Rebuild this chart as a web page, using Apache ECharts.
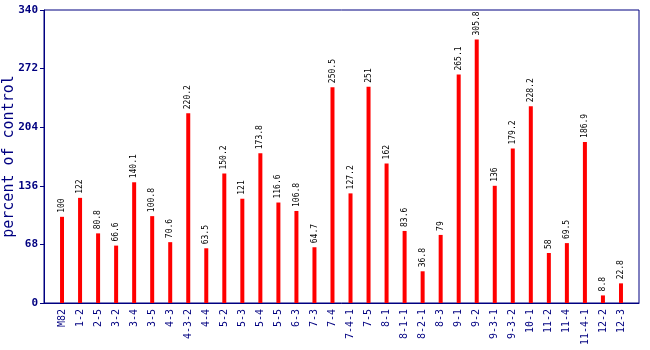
<!DOCTYPE html>
<html><head><meta charset="utf-8">
<script src="https://cdn.jsdelivr.net/npm/echarts@6/dist/echarts.min.js"></script>
<style>html,body{margin:0;padding:0;background:#fff}#c{width:650px;height:350px}</style>
</head><body><div id="c"></div>
<script>
const categories = ['M82','1-2','2-5','3-2','3-4','3-5','4-3','4-3-2','4-4','5-2','5-3','5-4','5-5','6-3','7-3','7-4','7-4-1','7-5','8-1','8-1-1','8-2-1','8-3','9-1','9-2','9-3-1','9-3-2','10-1','11-2','11-4','11-4-1','12-2','12-3'];
const values = [100,122,80.8,66.6,140.1,100.8,70.6,220.2,63.5,150.2,121,173.8,116.6,106.8,64.7,250.5,127.2,251,162,83.6,36.8,79,265.1,305.8,136,179.2,228.2,58,69.5,186.9,8.8,22.8];
const yTicks = [0,68,136,204,272,340];

const navy = '#000080';
const mono = '"DejaVu Sans Mono", "Liberation Mono", monospace';
const cats = [''].concat(categories, ['']);
const data = [null].concat(values, [null]);

const chart = echarts.init(document.getElementById('c'));
chart.setOption({
  animation: false,
  grid: {left: 44, right: 11, top: 10, bottom: 47, containLabel: false, outerBoundsMode: 'none',
    show: true, borderColor: navy, borderWidth: 1, backgroundColor: 'transparent'},
  xAxis: {
    type: 'category', data: cats, boundaryGap: false,
    axisLine: {lineStyle: {color: navy}},
    axisTick: {show: false},
    axisLabel: {rotate: 90, color: navy, fontFamily: mono, fontSize: 10, interval: 0, margin: 6},
    splitLine: {show: false}
  },
  yAxis: {
    type: 'value', min: 0, max: 340, interval: 68,
    name: 'percent of control', nameLocation: 'middle', nameGap: 27, nameMoveOverlap: false,
    nameTextStyle: {color: navy, fontFamily: mono, fontSize: 15},
    axisLine: {show: true, lineStyle: {color: navy}},
    axisTick: {show: true, length: 4, lineStyle: {color: navy}},
    axisLabel: {color: navy, fontFamily: mono, fontSize: 11, fontWeight: 'bold', margin: 6,
      customValues: yTicks},
    splitLine: {show: false}
  },
  series: [{
    type: 'bar', data: data, barWidth: 4,
    itemStyle: {color: '#ff0000'},
    label: {show: true, position: 'top', rotate: 90, align: 'left', verticalAlign: 'middle',
      distance: 4, fontFamily: mono, fontSize: 8, color: '#000'}
  }]
});
</script></body></html>
